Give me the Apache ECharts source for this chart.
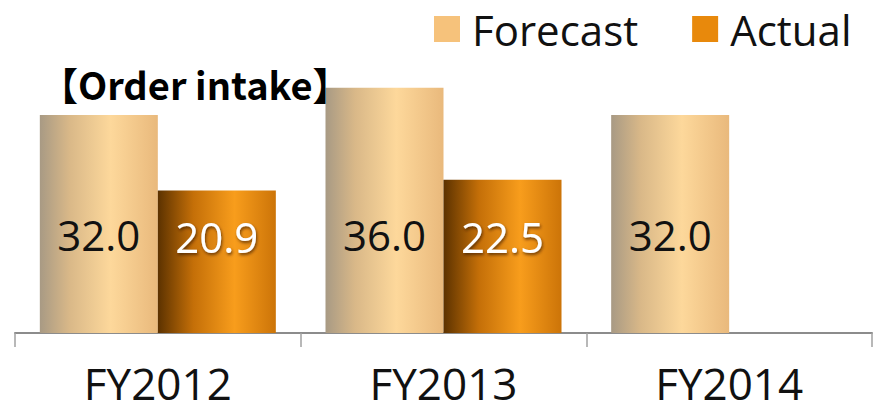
<!DOCTYPE html>
<html>
<head>
<meta charset="utf-8">
<script src="https://cdn.jsdelivr.net/npm/echarts@6/dist/echarts.min.js"></script>
<style>
  html, body { margin: 0; padding: 0; background: #fff; }
  #chart { width: 889px; height: 414px; }
</style>
</head>
<body>
<div id="chart"></div>
<script>
var categories = ['FY2012', 'FY2013', 'FY2014'];
var forecast = [32.0, 36.0, 32.0];
var actual = [20.9, 22.5, null];

var sans = '"Open Sans", "Noto Sans", sans-serif';

(function() {
  var chart = echarts.init(document.getElementById('chart'), null, { renderer: 'svg' });

  function hGrad(stops) {
    return new echarts.graphic.LinearGradient(0, 0, 1, 0, stops);
  }
  var forecastFill = hGrad([
    { offset: 0, color: '#a89a84' },
    { offset: 0.25, color: '#d9b888' },
    { offset: 0.6, color: '#fdd89b' },
    { offset: 1, color: '#e9b97c' }
  ]);
  var actualFill = hGrad([
    { offset: 0, color: '#5c3200' },
    { offset: 0.3, color: '#c46f08' },
    { offset: 0.65, color: '#f89d1c' },
    { offset: 1, color: '#cc7408' }
  ]);

  chart.setOption({
    animation: false,
    title: {
      text: '【Order intake】',
      left: 35,
      top: 59,
      textStyle: {
        fontFamily: '"Noto Sans CJK JP", sans-serif',
        fontWeight: 'bold',
        fontSize: 38,
        color: '#000'
      }
    },
    legend: {
      data: [
        { name: 'Forecast', itemStyle: { color: '#f6c27b' } },
        { name: 'Actual', itemStyle: { color: '#e8890c' } }
      ],
      left: 429,
      top: 3,
      icon: 'rect',
      itemWidth: 26,
      itemHeight: 26,
      itemGap: 54,
      textStyle: { fontFamily: sans, fontSize: 42, color: '#111', padding: [0, 0, 0, 7] }
    },
    grid: { left: 15, right: 17, top: 60.5, bottom: 81 },
    xAxis: {
      type: 'category',
      data: categories,
      axisLine: { lineStyle: { color: '#8c8c8c', width: 2 } },
      axisTick: { show: true, length: 14, lineStyle: { color: '#a0a0a0', width: 1.5 } },
      axisLabel: { fontFamily: sans, fontSize: 44, color: '#111', margin: 28 }
    },
    yAxis: {
      type: 'value',
      min: 0,
      max: 40,
      show: false,
      splitLine: { show: false }
    },
    series: [
      {
        name: 'Forecast',
        type: 'bar',
        data: forecast,
        barWidth: 118,
        barGap: '0%',
        itemStyle: { color: forecastFill },
        label: {
          show: true,
          position: 'insideBottom',
          distance: 78,
          formatter: function(p) { return p.value.toFixed(1); },
          fontFamily: sans,
          fontSize: 42,
          color: '#111'
        }
      },
      {
        name: 'Actual',
        type: 'bar',
        data: actual,
        barWidth: 118,
        itemStyle: { color: actualFill },
        label: {
          show: true,
          position: 'insideBottom',
          distance: 76,
          formatter: function(p) { return p.value == null ? '' : p.value.toFixed(1); },
          fontFamily: sans,
          fontSize: 42,
          color: '#fff',
          textShadowColor: 'rgba(60,30,0,0.7)',
          textShadowBlur: 3,
          textShadowOffsetX: 1,
          textShadowOffsetY: 2
        }
      }
    ]
  });
  window.addEventListener('resize', function() { chart.resize(); });
})();
</script>
</body>
</html>
